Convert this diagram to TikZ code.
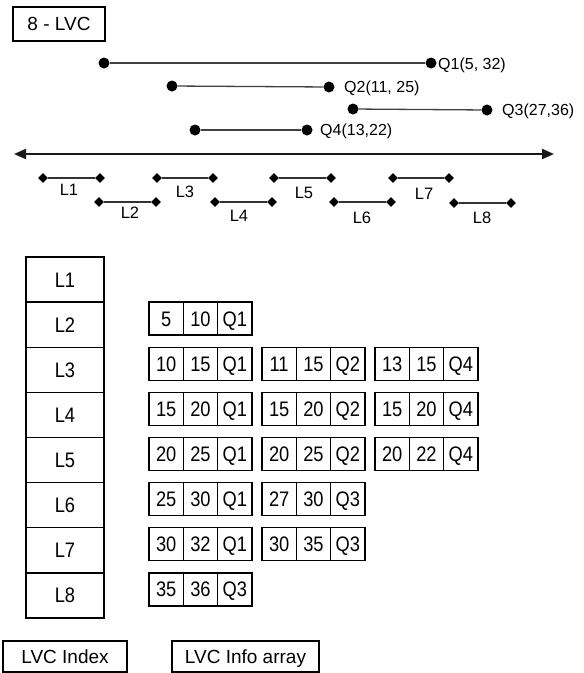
\documentclass[tikz,border=0pt]{standalone}
\usepackage{fontspec}
\setmainfont{Liberation Sans}
\newfontfamily\tallfont[FakeStretch=0.87]{Liberation Sans}
\usetikzlibrary{shapes.geometric,arrows.meta}
\newcommand\lvcgroup[5]{%
  \pgfmathsetmacro\gx{149+113*(#2-1)}%
  \pgfmathsetmacro\gy{257+45.125*(#1-1)+16.5}%
  \node[cell] (c#1#2a) at (\gx+17.17,\gy) {#3};
  \node[cell] (c#1#2b) at (\gx+51.5,\gy) {#4};
  \node[cell] (c#1#2c) at (\gx+85.83,\gy) {#5};
}
\begin{document}
\begin{tikzpicture}[x=1pt,y=-1pt,
  dot/.style={circle,fill=black,inner sep=0pt,minimum size=11pt},
  dia/.style={diamond,fill=black,inner sep=0pt,minimum width=10pt,minimum height=10pt},
  qline/.style={line width=1.3pt,draw=black!75},
  lseg/.style={line width=1.4pt,draw=black!80},
  qlab/.style={anchor=west,inner sep=0pt,font=\fontsize{16}{18}\selectfont},
  llab/.style={inner sep=0pt,font=\fontsize{16.5}{18}\selectfont},
  box/.style={draw,line width=1.3pt,inner sep=0pt,text height=13.6pt,text depth=0pt,font=\fontsize{19}{22}\selectfont},
  idx/.style={draw,line width=1.4pt,minimum width=78pt,minimum height=45.125pt,inner sep=0pt,text height=15pt,text depth=0pt,font=\tallfont\fontsize{21}{22}\selectfont},
  cell/.style={draw,line width=1.4pt,minimum width=34.33pt,minimum height=33pt,inner sep=0pt,text height=15pt,text depth=0pt,font=\tallfont\fontsize{21}{22}\selectfont}]
\useasboundingbox (0,0) rectangle (584,673);

% title
\node[box,minimum width=92pt,minimum height=34pt] (title) at (59,24) {8 - LVC};

% query segments
\node[dot] (q1a) at (104,63) {};
\node[dot] (q1b) at (431,63) {};
\node[dot] (q2a) at (172,86) {};
\node[dot] (q2b) at (329,87) {};
\node[dot] (q3a) at (353,109) {};
\node[dot] (q3b) at (487,110) {};
\node[dot] (q4a) at (195,130) {};
\node[dot] (q4b) at (307,130) {};
\draw[qline] (q1a) -- (q1b);
\draw[qline] (q2a) -- (q2b);
\draw[qline] (q3a) -- (q3b);
\draw[qline] (q4a) -- (q4b);
\node[qlab] (q1t) at (438,65) {Q1(5, 32)};
\node[qlab] (q2t) at (344,88) {Q2(11, 25)};
\node[qlab] (q3t) at (502,111) {Q3(27,36)};
\node[qlab] (q4t) at (320,131) {Q4(13,22)};

% axis
\coordinate (axL) at (14,154);
\coordinate (axR) at (554,154);
\draw[line width=2pt,draw=black!90,{Triangle[length=12pt,width=10pt]}-{Triangle[length=12pt,width=10pt]}] (axL) -- (axR);

% L segments
\node[dia] (l1a) at (43,178) {};  \node[dia] (l1b) at (100,178) {};
\node[dia] (l2a) at (99,202) {};  \node[dia] (l2b) at (156,202) {};
\node[dia] (l3a) at (157,178) {}; \node[dia] (l3b) at (213,178) {};
\node[dia] (l4a) at (215,202) {}; \node[dia] (l4b) at (272,202) {};
\node[dia] (l5a) at (274,178) {}; \node[dia] (l5b) at (331,178) {};
\node[dia] (l6a) at (334,202) {}; \node[dia] (l6b) at (391,202) {};
\node[dia] (l7a) at (393,178) {}; \node[dia] (l7b) at (449,178) {};
\node[dia] (l8a) at (454,203) {}; \node[dia] (l8b) at (511,203) {};
\foreach \i in {1,...,8}{\draw[lseg] (l\i a) -- (l\i b);}
\node[llab] (t1) at (69,190) {L1};
\node[llab] (t2) at (130,213) {L2};
\node[llab] (t3) at (185,192) {L3};
\node[llab] (t4) at (239,216) {L4};
\node[llab] (t5) at (304,193) {L5};
\node[llab] (t6) at (362,218) {L6};
\node[llab] (t7) at (424,194) {L7};
\node[llab] (t8) at (482,218) {L8};

% index column
\foreach \i in {1,...,8}{
  \node[idx] (ix\i) at (65,{257+45.125*(\i-0.5)}) {L\i};
}

% info array
\lvcgroup{2}{1}{5}{10}{Q1}
\lvcgroup{3}{1}{10}{15}{Q1}
\lvcgroup{3}{2}{11}{15}{Q2}
\lvcgroup{3}{3}{13}{15}{Q4}
\lvcgroup{4}{1}{15}{20}{Q1}
\lvcgroup{4}{2}{15}{20}{Q2}
\lvcgroup{4}{3}{15}{20}{Q4}
\lvcgroup{5}{1}{20}{25}{Q1}
\lvcgroup{5}{2}{20}{25}{Q2}
\lvcgroup{5}{3}{20}{22}{Q4}
\lvcgroup{6}{1}{25}{30}{Q1}
\lvcgroup{6}{2}{27}{30}{Q3}
\lvcgroup{7}{1}{30}{32}{Q1}
\lvcgroup{7}{2}{30}{35}{Q3}
\lvcgroup{8}{1}{35}{36}{Q3}

% captions
\node[box,minimum width=124pt,minimum height=31pt] (capidx) at (65,656.5) {LVC Index};
\node[box,minimum width=147pt,minimum height=31pt] (capinfo) at (245.5,656.5) {LVC Info array};
\end{tikzpicture}
\end{document}
